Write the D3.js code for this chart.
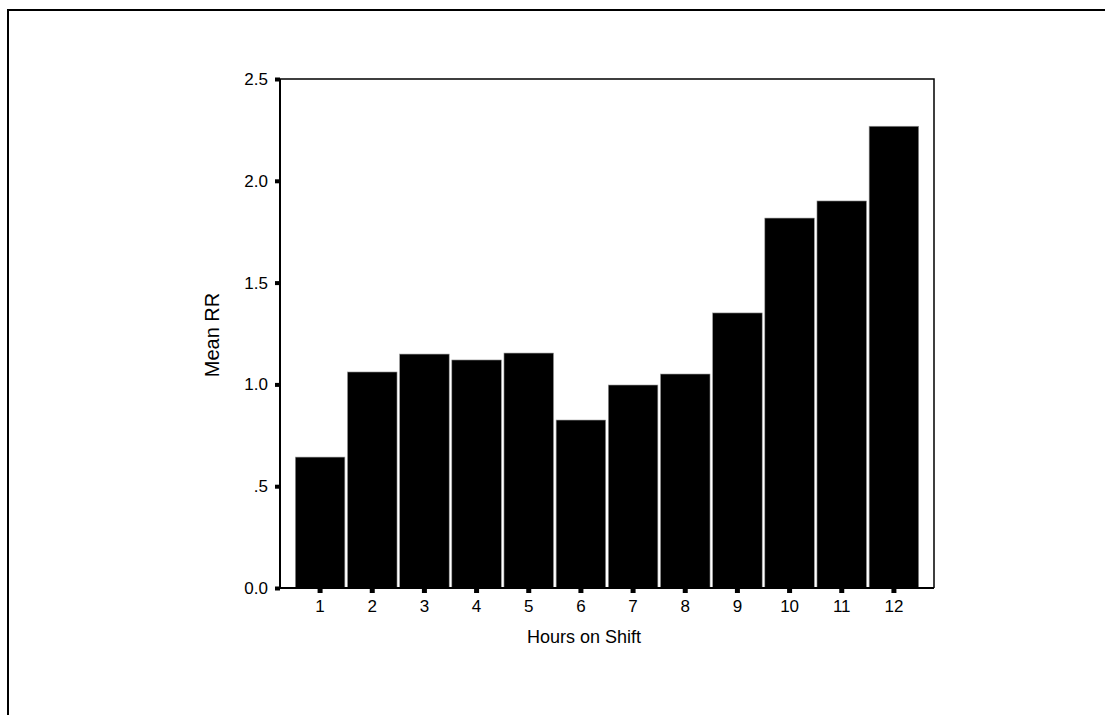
<!DOCTYPE html>
<html>
<head>
<meta charset="utf-8">
<script src="https://cdn.jsdelivr.net/npm/d3@7"></script>
<style>
  html, body { margin: 0; padding: 0; background: #fff; }
  svg { display: block; }
  text { font-family: Arial, "Liberation Sans", sans-serif; fill: #000; }
</style>
</head>
<body>
<script>
const categories = ["1","2","3","4","5","6","7","8","9","10","11","12"];
const meanRR = [0.643, 1.061, 1.149, 1.12, 1.154, 0.825, 0.997, 1.051, 1.351, 1.817, 1.901, 2.268];
const yTicks = [0, 0.5, 1.0, 1.5, 2.0, 2.5];
const yTickLabels = ["0.0", ".5", "1.0", "1.5", "2.0", "2.5"];
const xTitle = "Hours on Shift";
const yTitle = "Mean RR";

const W = 1105, H = 715;
const svg = d3.select("body").append("svg").attr("width", W).attr("height", H);

// outer frame
svg.append("rect").attr("x", 8).attr("y", 10).attr("width", W + 20).attr("height", H + 20)
  .attr("fill", "none").attr("stroke", "#000").attr("stroke-width", 2);

const plot = {left: 280, right: 934, top: 79, bottom: 588};

const x = d3.scaleBand().domain(categories).range([plot.left + 14, plot.right - 14]).paddingInner(0.05).paddingOuter(0.025);
const y = d3.scaleLinear().domain([0, 2.5]).range([plot.bottom, plot.top]);

// frame top/right thin
svg.append("path")
  .attr("d", `M${plot.left},${plot.top}H${plot.right}V${plot.bottom}`)
  .attr("fill", "none").attr("stroke", "#000").attr("stroke-width", 1.5);

// bars
svg.append("g").selectAll("rect").data(meanRR).join("rect")
  .attr("x", (d, i) => x(categories[i]))
  .attr("width", x.bandwidth())
  .attr("y", d => y(d))
  .attr("height", d => y(0) - y(d))
  .attr("fill", "#000")
  .attr("stroke", "#999").attr("stroke-width", 0.6);

// y axis
const yAxis = d3.axisLeft(y).tickValues(yTicks).tickFormat((d, i) => yTickLabels[i]).tickSize(0).tickPadding(12);
const gy = svg.append("g").attr("transform", `translate(${plot.left},0)`).call(yAxis);
gy.select(".domain").remove();
gy.selectAll("text").style("font-size", "17px").attr("font-family", "Arial, 'Liberation Sans', sans-serif");
gy.selectAll(".tick").append("rect").attr("x", -5).attr("y", -2).attr("width", 5).attr("height", 4).attr("fill", "#000");

// x axis
const xAxis = d3.axisBottom(x).tickSize(0).tickPadding(12);
const gx = svg.append("g").attr("transform", `translate(0,${plot.bottom})`).call(xAxis);
gx.select(".domain").remove();
gx.selectAll("text").style("font-size", "17px").attr("font-family", "Arial, 'Liberation Sans', sans-serif");
gx.selectAll(".tick").append("rect").attr("x", -2.5).attr("y", 0).attr("width", 5).attr("height", 5).attr("fill", "#000");

// axis lines (thick)
svg.append("path")
  .attr("d", `M${plot.left},${plot.top}V${plot.bottom}H${plot.right}`)
  .attr("fill", "none").attr("stroke", "#000").attr("stroke-width", 2);

// titles
svg.append("text").attr("x", 584).attr("y", 643)
  .attr("text-anchor", "middle").style("font-size", "18px").text(xTitle);
svg.append("text").attr("transform", `translate(219,335) rotate(-90)`)
  .attr("text-anchor", "middle").style("font-size", "20px").text(yTitle);
</script>
</body>
</html>
